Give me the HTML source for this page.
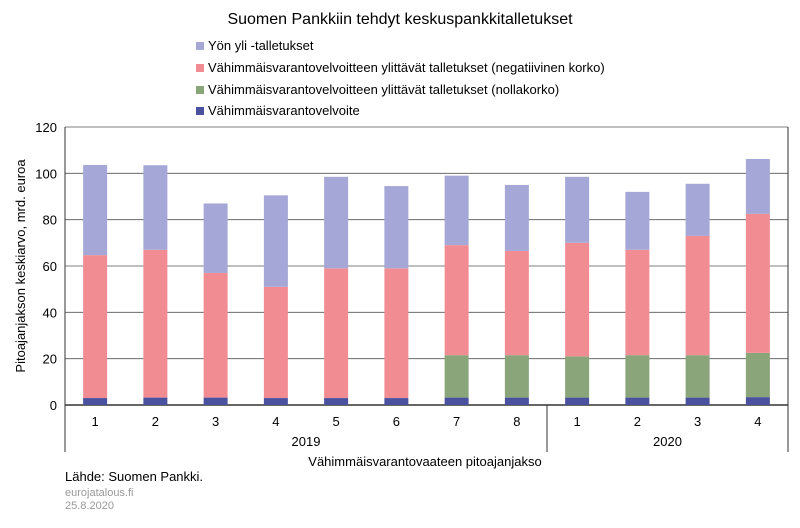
<!DOCTYPE html>
<html><head><meta charset="utf-8"><style>
body{margin:0;background:#fff;font-family:"Liberation Sans",sans-serif}
svg text{font-family:"Liberation Sans",sans-serif}
</style></head><body>
<svg width="800" height="523" id="c">
<text x="400" y="24" text-anchor="middle" font-size="16">Suomen Pankkiin tehdyt keskuspankkitalletukset</text>
<g font-size="13">
<rect x="196" y="42" width="8" height="8" fill="#a5a7d6"/><text x="208" y="50">Yön yli -talletukset</text>
<rect x="196" y="64" width="8" height="8" fill="#f28c93"/><text x="208" y="72">Vähimmäisvarantovelvoitteen ylittävät talletukset (negatiivinen korko)</text>
<rect x="196" y="86" width="8" height="8" fill="#8aa57a"/><text x="208" y="94">Vähimmäisvarantovelvoitteen ylittävät talletukset (nollakorko)</text>
<rect x="196" y="107" width="8" height="8" fill="#4a52a0"/><text x="208" y="115">Vähimmäisvarantovelvoite</text>
</g>
<g id="grid"></g><g id="bars"></g><g id="axes"></g>
<text transform="translate(25,266) rotate(-90)" text-anchor="middle" font-size="13">Pitoajanjakson keskiarvo, mrd. euroa</text>
<text x="425" y="466" text-anchor="middle" font-size="13">Vähimmäisvarantovaateen pitoajanjakso</text>
<text x="65" y="481" font-size="13">Lähde: Suomen Pankki.</text>
<text x="65" y="496" font-size="11" fill="#999">eurojatalous.fi</text>
<text x="65" y="509" font-size="11" fill="#999">25.8.2020</text>
</svg>
<script>
const categories=["1","2","3","4","5","6","7","8","1","2","3","4"];
const years=["2019","2020"];
const reserve=[3,3.2,3.2,3,3,3,3.2,3.2,3.2,3.2,3.2,3.4];
const zeroRate=[0,0,0,0,0,0,18.3,18.3,17.8,18.3,18.3,19.1];
const negRate=[61.7,63.8,53.8,48,56,56,47.5,45,49,45.5,51.5,60];
const overnight=[38.9,36.5,30,39.5,39.5,35.5,30,28.5,28.5,25,22.5,23.7];
const yTicks=[0,20,40,60,80,100,120];
const NS="http://www.w3.org/2000/svg";
const x0=65,step=60.25,bw=24,yb=405,yt=127,ymax=120;
const y=v=>yb-(v/ymax)*(yb-yt);
const xc=i=>x0+step*i+step/2;
function mk(p,tag,a){const e=document.createElementNS(NS,tag);for(const k in a)e.setAttribute(k,a[k]);document.getElementById(p).appendChild(e);return e;}
yTicks.forEach(t=>{
 const l=mk('grid','line',{x1:x0,x2:x0+step*12,y1:y(t),y2:y(t),stroke:t==0?'#333':'#555','stroke-width':t==0?1.5:0.8});
 
 
 const tx=mk('axes','text',{x:x0-8,y:y(t)+5,'text-anchor':'end','font-size':13});tx.textContent=t;
 
 
});
const series=[[reserve,'#4a52a0','reserve'],[zeroRate,'#8aa57a','zero'],[negRate,'#f28c93','negative'],[overnight,'#a5a7d6','overnight']];
categories.forEach((c,i)=>{
 let acc=0;
 series.forEach(([arr,col,n])=>{
  const v=arr[i];if(v<=0)return;
  const r=mk('bars','rect',{x:xc(i)-bw/2,y:y(acc+v),width:bw,height:y(acc)-y(acc+v),fill:col});
  
  
  acc+=v;
 });
 const t=mk('axes','text',{x:xc(i),y:426,'text-anchor':'middle','font-size':13});t.textContent=c;
 
 
});
let l=mk('axes','line',{x1:x0,x2:x0,y1:yt,y2:452,stroke:'#333','stroke-width':1});


l=mk('axes','line',{x1:x0+step*12,x2:x0+step*12,y1:yt,y2:452,stroke:'#333','stroke-width':1});


l=mk('axes','line',{x1:x0+step*8,x2:x0+step*8,y1:yb,y2:452,stroke:'#333','stroke-width':1});


[[years[0],x0+step*4],[years[1],x0+step*10]].forEach(([s,x])=>{
 const t=mk('axes','text',{x:x,y:446,'text-anchor':'middle','font-size':13});t.textContent=s;
 
 
});
</script>
</body></html>
